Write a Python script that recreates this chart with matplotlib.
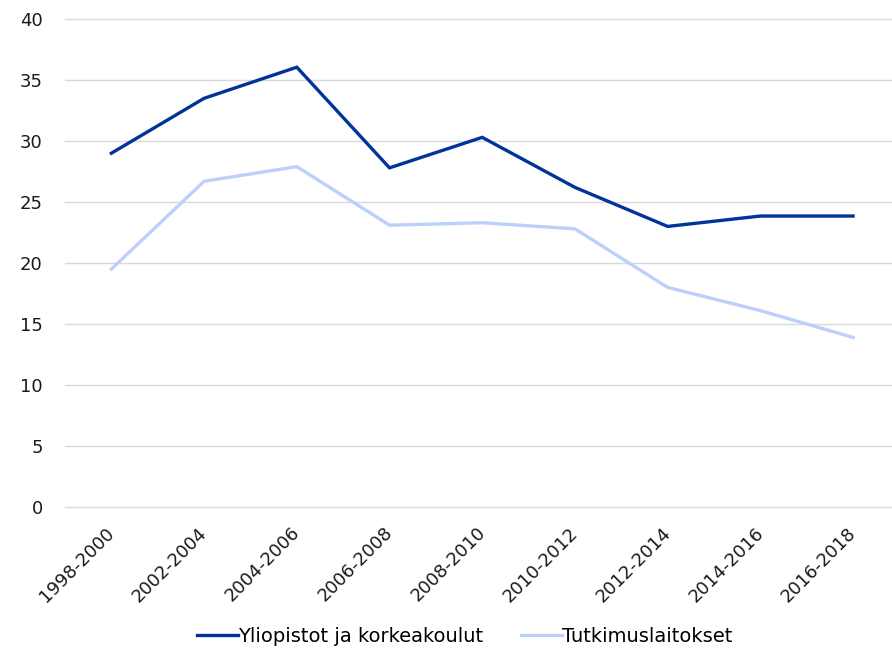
import matplotlib.pyplot as plt
from matplotlib.transforms import ScaledTranslation

periods = ["1998-2000", "2002-2004", "2004-2006", "2006-2008", "2008-2010",
           "2010-2012", "2012-2014", "2014-2016", "2016-2018"]
yliopistot = [29.0, 33.5, 36.05, 27.8, 30.3, 26.2, 23.0, 23.85, 23.85]
tutkimuslaitokset = [19.5, 26.7, 27.9, 23.1, 23.3, 22.8, 18.0, 16.1, 13.9]

fig = plt.figure(figsize=(8.92, 6.49), dpi=100)
ax = fig.add_axes([0.0729, 0.2188, 0.9271, 0.7519])

x = range(len(periods))
ax.plot(x, yliopistot, color="#00349A", lw=2.4, label="Yliopistot ja korkeakoulut",
        solid_joinstyle="miter")
ax.plot(x, tutkimuslaitokset, color="#BCD0FB", lw=2.4, label="Tutkimuslaitokset",
        solid_joinstyle="miter")

ax.set_ylim(0, 40)
ax.set_yticks(range(0, 41, 5))
ax.set_xlim(-0.5, 8.42)
ax.set_xticks(list(x))
ax.set_xticklabels(periods, rotation=45, ha="right", rotation_mode="anchor")
ax.tick_params(length=0, labelsize=13, colors="#1a1a1a")
ax.tick_params(axis="y", pad=16)
ax.tick_params(axis="x", pad=12)
# nudge rotated labels a little left
shift = ScaledTranslation(-6 / 100, 0, fig.dpi_scale_trans)
for lbl in ax.get_xticklabels():
    lbl.set_transform(lbl.get_transform() + shift)
ax.grid(axis="y", color="#d9d9d9", lw=1)
for gl in ax.get_ygridlines():
    gl.set_clip_on(False)
ax.set_axisbelow(True)
for s in ax.spines.values():
    s.set_visible(False)

fig.legend(loc="center", bbox_to_anchor=(0.521, 0.02), ncol=2, frameon=False,
           fontsize=14, handlelength=2.1, handletextpad=0, columnspacing=1.95)

fig.savefig("out.png", dpi=100)
